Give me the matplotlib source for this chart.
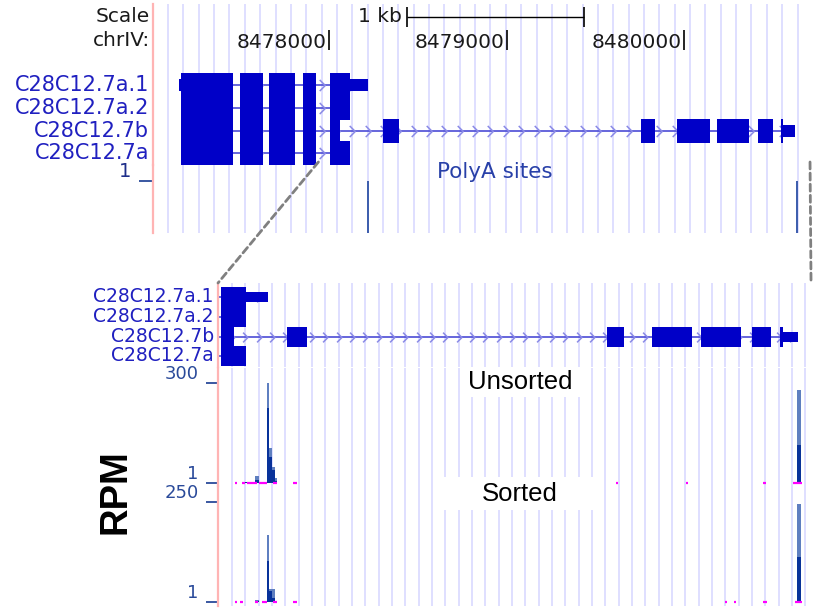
import numpy as np
import matplotlib
matplotlib.use("Agg")
import matplotlib.pyplot as plt
from matplotlib.path import Path
from matplotlib.patches import ConnectionPatch, Rectangle

# ---- data: chrIV, WormBase C28C12.7 ----
tx_names = ["C28C12.7a.1", "C28C12.7a.2", "C28C12.7b", "C28C12.7a"]
shared_exons = [(8477166, 8477459), (8477499, 8477628), (8477662, 8477808), (8477854, 8477927)]
a1_cds = shared_exons + [(8478006, 8478118)]
a1_utr = [(8477156, 8477166), (8478118, 8478220)]
a2_cds = shared_exons + [(8478006, 8478118)]
a2_utr = []
b_cds = shared_exons + [(8478006, 8478062), (8478304, 8478394), (8479758, 8479837),
                        (8479961, 8480146), (8480186, 8480366), (8480417, 8480501),
                        (8480546, 8480558)]
b_utr = [(8480558, 8480625)]
a_cds = shared_exons + [(8478006, 8478118)]
a_utr = []

coord_ticks = [8478000, 8479000, 8480000]
scale_bar = (8478439, 8479439)  # 1 kb

polya_pos = [8478220, 8480637]
polya_val = [1, 1]

# coverage bins (RPM), max and mean per bin
bin_start = [8478113, 8478160, 8478213, 8478222, 8478236, 8478250, 8480621]
bin_end = [8478160, 8478177, 8478222, 8478236, 8478250, 8478259, 8480639]
unsorted_max = [3, 21, 298, 104, 49, 16, 278]
unsorted_mean = [2, 9, 225, 77, 39, 6, 114]
sorted_max = [2, 7, 168, 33, 33, 5, 244]
sorted_mean = [1.5, 4, 104, 28, 12, 3, 114]

# below-range (<1) stretches, drawn magenta on the baseline
unsorted_low = [(8478068, 8478077), (8478100, 8478113), (8478122, 8478168), (8478177, 8478213),
                (8478240, 8478259), (8478331, 8478349), (8479799, 8479808), (8480117, 8480126),
                (8480467, 8480480), (8480603, 8480644)]
sorted_low = [(8478068, 8478077), (8478091, 8478104), (8478159, 8478172), (8478190, 8478213),
              (8478240, 8478259), (8478331, 8478349), (8480294, 8480302), (8480336, 8480344),
              (8480467, 8480485), (8480612, 8480643)]

top_view = (8477008, 8480738)
zoom_view = (8477991, 8480703)
zoom_from = (8477940, 8480710)

# ---- style ----
W, H = 815, 615
EXON = "#0000c8"
INTRON = "#3c3cd2"
CHEVC = "#8a8ae6"
GUIDE = "#dcdcff"
PINK = "#ffb4b4"
LABEL = "#2020c0"
TICKC = "#2a4a9a"
LIGHT = "#5f7fc0"
DARK = "#08329a"
CHEV = Path([(-0.5, 1), (0.5, 0), (-0.5, -1)], [Path.MOVETO, Path.LINETO, Path.LINETO])

fig = plt.figure(figsize=(W / 100, H / 100), dpi=100)


def px_axes(x0, y0, x1, y1):
    return fig.add_axes([x0 / W, 1 - y1 / H, (x1 - x0) / W, (y1 - y0) / H])


def clean(ax):
    for s in ax.spines.values():
        s.set_visible(False)
    ax.spines["left"].set_visible(True)
    ax.spines["left"].set_color(PINK)
    ax.spines["left"].set_linewidth(1.6)
    ax.set_xticks([])
    ax.set_yticks([])
    ax.patch.set_alpha(0)


def guides(ax, first, step, last):
    g = np.arange(first, last, step)
    lo, hi = ax.get_ylim()
    ax.vlines(g, lo, hi, colors=GUIDE, lw=1.3, zorder=0)
    return g


def left_label(ax, y, text, size, color, dx=-4):
    ax.annotate(text, xy=(0, y), xycoords=("axes fraction", "data"),
                xytext=(dx, 0), textcoords="offset pixels",
                ha="right", va="center", fontsize=size, color=color)


def draw_genes(ax, rows_y, thick_h, thin_h, g, chev_ms, label_size):
    sets = [(a1_cds, a1_utr), (a2_cds, a2_utr), (b_cds, b_utr), (a_cds, a_utr)]
    for name, y, (cds, utr) in zip(tx_names, rows_y, sets):
        allx = [v for s in cds + utr for v in s]
        lo, hi = min(allx), max(allx)
        ax.hlines(y, lo, hi, color=INTRON, lw=1.1, zorder=2)
        gg = g[(g > lo + 20) & (g < hi - 20)]
        ax.plot(gg, np.full(len(gg), y), ls="none", marker=CHEV, ms=chev_ms,
                mec=CHEVC, mfc="none", mew=1.1, zorder=2)
        ax.barh([y] * len(cds), [e - s for s, e in cds], left=[s for s, e in cds],
                height=thick_h, color=EXON, lw=0, zorder=3)
        if utr:
            ax.barh([y] * len(utr), [e - s for s, e in utr], left=[s for s, e in utr],
                    height=thin_h, color=EXON, lw=0, zorder=3)
        left_label(ax, y, name, label_size, LABEL)


# ---- top panel: scale, coordinates, genes ----
ax_g1 = px_axes(153, 4, 815, 165)
ax_g1.set_xlim(*top_view)
ax_g1.set_ylim(165, 4)
clean(ax_g1)
g_top = guides(ax_g1, 8477093, 86.5, 8480700)
draw_genes(ax_g1, [85, 108, 131, 153], 23.6, 12, g_top, 8, 15)

left_label(ax_g1, 17, "Scale", 14.5, "#1a1a1a", dx=-3)
left_label(ax_g1, 41, "chrIV:", 14.5, "#1a1a1a", dx=-3)
ax_g1.hlines(17, *scale_bar, color="black", lw=1)
ax_g1.vlines(scale_bar, 7, 27, color="black", lw=1.2)
ax_g1.annotate("1 kb", xy=(scale_bar[0], 17), xytext=(-5, 0), textcoords="offset pixels",
               ha="right", va="center", fontsize=14.5, color="#1a1a1a")
ax_g1.vlines(coord_ticks, 30, 50, color="black", lw=1.2)
for p in coord_ticks:
    ax_g1.annotate(str(p), xy=(p, 42), xytext=(-2, 0), textcoords="offset pixels",
                   ha="right", va="center", fontsize=14.5, color="#1a1a1a")
ax_g1.text(0.5166, 63, "WormBase Gene Annotations", transform=ax_g1.get_xaxis_transform(),
           ha="center", va="center", fontsize=15.5, color=LABEL)

# ---- polyA track ----
ax_pa = px_axes(153, 165, 815, 233)
ax_pa.set_xlim(*top_view)
ax_pa.set_ylim(0, 68 / 52)
clean(ax_pa)
guides(ax_pa, 8477093, 86.5, 8480700)
ax_pa.bar(polya_pos, polya_val, width=11, color="#3f5fae", zorder=3)
ax_pa.set_yticks([1])
ax_pa.set_yticklabels(["1"])
ax_pa.tick_params(axis="y", length=10, width=1.3, color=TICKC, labelcolor="#1e2e8a",
                  labelsize=14, pad=6)
for t in ax_pa.get_yticklabels():
    t.set_verticalalignment("bottom")
ax_pa.text(0.5166, 0.897, "PolyA sites", transform=ax_pa.transAxes,
           ha="center", va="center", fontsize=15.5, color="#2840a8")

# ---- zoomed gene track ----
ax_g2 = px_axes(218, 283, 815, 367)
ax_g2.set_xlim(*zoom_view)
ax_g2.set_ylim(367, 283)
clean(ax_g2)
g_bot = guides(ax_g2, 8478054, 60.6, 8480700)
draw_genes(ax_g2, [297, 317, 337, 356], 20.6, 10, g_bot, 7, 13.5)


# ---- coverage tracks ----
def signal(y0, y1, y_top, y_one, top_val, vmax, vmean, low):
    ax = px_axes(218, y0, 815, y1)
    ax.set_xlim(*zoom_view)
    per_px = (top_val - 1) / (y_one - y_top)
    ax.set_ylim(1 - (y1 - y_one) * per_px, 1 + (y_one - y0) * per_px)
    clean(ax)
    guides(ax, 8478054, 60.6, 8480700)
    widths = np.array(bin_end) - np.array(bin_start)
    ax.bar(bin_start, np.array(vmax) - 1, width=widths, bottom=1, align="edge",
           color=LIGHT, lw=0, zorder=3)
    ax.bar(bin_start, np.array(vmean) - 1, width=widths, bottom=1, align="edge",
           color=DARK, lw=0, zorder=3)
    ax.hlines([1] * len(low), [s for s, e in low], [e for s, e in low],
              color="#ff00ff", lw=1.6, zorder=4)
    ax.set_yticks([1, top_val])
    ax.set_yticklabels(["1", str(top_val)])
    ax.tick_params(axis="y", length=9, width=1.3, color=TICKC, labelcolor=TICKC,
                   labelsize=13, pad=5)
    for t in ax.get_yticklabels():
        t.set_verticalalignment("bottom")
    return ax


ax_u = signal(368, 486, 382.7, 482.7, 300, unsorted_max, unsorted_mean, unsorted_low)
ax_s = signal(486, 606, 501.7, 602.3, 250, sorted_max, sorted_mean, sorted_low)

# ---- overlay: zoom connectors, track titles, axis title ----
ax_o = fig.add_axes([0, 0, 1, 1], zorder=10)
ax_o.set_xlim(0, W)
ax_o.set_ylim(H, 0)
ax_o.axis("off")

for xa, xb in [(zoom_from[0], zoom_view[0]), (zoom_from[1], zoom_from[1] - 25)]:
    con = ConnectionPatch(xyA=(xa, 162), coordsA=ax_g1.transData,
                          xyB=(xb, 283), coordsB=ax_g2.transData,
                          color="#808080", lw=2, ls=(0, (2.5, 1.5)), zorder=5)
    fig.add_artist(con)

ax_o.add_patch(Rectangle((463, 368), 120, 29, facecolor="white", edgecolor="none"))
ax_o.text(520, 382, "Unsorted", ha="center", va="center", fontsize=18.5,
          family="Liberation Sans", color="black")
ax_o.add_patch(Rectangle((443, 477), 150, 33, facecolor="white", edgecolor="none"))
ax_o.text(520, 494, "Sorted", ha="center", va="center", fontsize=18.5,
          family="Liberation Sans", color="black")
ax_o.text(115, 492, "RPM", rotation=90, ha="center", va="center", fontsize=27.5,
          fontweight="bold", family="Liberation Sans", color="black")

fig.savefig("out.png", dpi=100)
